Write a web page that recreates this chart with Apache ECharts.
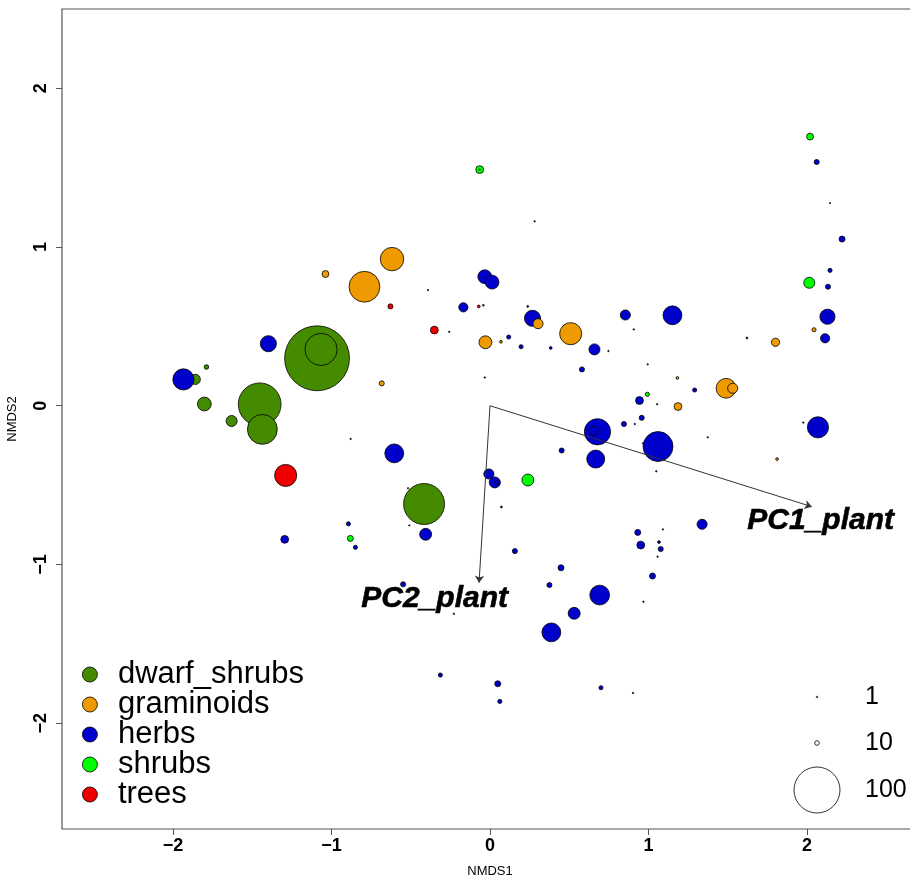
<!DOCTYPE html>
<html><head><meta charset="utf-8">
<script src="https://cdn.jsdelivr.net/npm/echarts@6/dist/echarts.min.js"></script>
<style>html,body{margin:0;padding:0;background:#fff}#c{width:910px;height:881px}</style>
</head><body><div id="c"></div>
<script>
// ---- data: [NMDS1, NMDS2, abundance] ----
const groupNames = ['dwarf_shrubs', 'graminoids', 'herbs', 'shrubs', 'trees'];
const dwarfShrubs = [
  [-1.091, 0.299, 141], [-1.066, 0.355, 70], [-1.453, 0.009, 93], [-1.436, -0.149, 65],
  [-1.630, -0.096, 24], [-1.802, 0.011, 30], [-1.859, 0.166, 22], [-1.789, 0.244, 10],
  [-0.416, -0.619, 89], [-0.042, 0.633, 4], [-0.517, -0.520, 2], [-0.509, -0.754, 2]
];
const graminoids = [
  [-0.792, 0.750, 67], [-0.618, 0.924, 51], [-1.038, 0.830, 15], [-0.683, 0.141, 11],
  [-0.029, 0.400, 28], [0.069, 0.403, 6], [0.303, 0.517, 22], [0.509, 0.454, 48],
  [1.489, 0.110, 43], [1.531, 0.110, 22], [1.182, 0.175, 6], [1.186, -0.005, 17],
  [1.801, 0.400, 18], [2.044, 0.479, 9], [1.811, -0.336, 6], [2.145, 1.277, 3]
];
const herbs = [
  [-1.934, 0.166, 46], [-1.398, 0.391, 35], [-0.604, -0.300, 41], [-0.406, -0.810, 26],
  [-1.295, -0.842, 17], [-0.893, -0.744, 9], [-0.849, -0.892, 9], [-0.033, 0.813, 30],
  [0.013, 0.779, 30], [-0.168, 0.620, 20], [0.238, 0.626, 4], [0.268, 0.551, 35],
  [0.118, 0.433, 9], [0.196, 0.372, 9], [0.383, 0.364, 6], [0.659, 0.355, 24],
  [0.580, 0.229, 11], [0.854, 0.572, 22], [1.151, 0.570, 41], [1.621, 0.427, 4],
  [1.291, 0.099, 9], [0.943, 0.033, 17], [0.957, -0.076, 11], [0.845, -0.115, 11],
  [0.678, -0.164, 57], [0.654, -0.158, 20], [0.667, -0.336, 39], [0.452, -0.282, 11],
  [1.060, -0.257, 65], [2.069, -0.136, 46], [-0.007, -0.430, 22], [0.030, -0.483, 24],
  [0.047, -0.483, 11], [0.072, -0.638, 4], [0.157, -0.916, 11], [0.448, -1.021, 13],
  [0.375, -1.130, 11], [0.692, -1.193, 43], [0.531, -1.308, 26], [0.387, -1.428, 41],
  [-0.548, -1.125, 11], [1.338, -0.747, 22], [0.932, -0.798, 13], [0.951, -0.878, 17],
  [1.066, -0.859, 6], [1.077, -0.903, 11], [1.025, -1.073, 13], [-0.313, -1.697, 9],
  [0.049, -1.752, 13], [0.062, -1.863, 9], [0.700, -1.777, 9], [2.061, 1.536, 11],
  [2.221, 1.050, 13], [2.145, 0.853, 9], [2.132, 0.750, 11], [2.129, 0.561, 33],
  [2.114, 0.425, 20],
  [0.282, 1.162, 3], [-0.391, 0.729, 1], [-0.257, 0.466, 1], [0.747, 0.345, 2],
  [0.907, 0.481, 1], [-0.033, 0.178, 2], [0.995, 0.261, 1], [1.054, 0.009, 1],
  [0.913, -0.115, 1], [1.374, -0.199, 1], [1.049, -0.413, 2], [1.976, -0.106, 1],
  [-0.879, -0.209, 1], [-0.228, -1.311, 2], [1.091, -0.779, 1], [1.057, -0.951, 1],
  [0.968, -1.235, 2], [0.902, -1.810, 2], [0.965, -0.237, 1]
];
const shrubs = [
  [-0.065, 1.488, 17], [2.019, 1.696, 15], [2.014, 0.775, 24], [0.239, -0.468, 26],
  [0.993, 0.072, 9], [-0.881, -0.836, 13], [-0.065, 1.488, 1]
];
const trees = [
  [-1.289, -0.439, 48], [-0.351, 0.477, 17], [-0.628, 0.626, 11], [-0.071, 0.626, 6]
];
const vectorNames = ['PC1_plant', 'PC2_plant'];
const vectorEnds = [[2.03, -0.636], [-0.069, -1.115]];
const vectorLabelPos = [[2.086, -0.727], [-0.349, -1.218]];
const axisTickValues = [-2, -1, 0, 1, 2];
const sizeLegendValues = [1, 10, 100];

// ---- styling / build ----
const SIZE_SCALE = 0.46;  // px diameter per abundance unit
const MIN_SIZE = 1.4;
const colors = {
  dwarf_shrubs: '#458B00', graminoids: '#EE9A00', herbs: '#0000CD',
  shrubs: '#00FF00', trees: '#EE0000'
};
const seriesData = {
  dwarf_shrubs: dwarfShrubs, graminoids: graminoids, herbs: herbs,
  shrubs: shrubs, trees: trees
};
const drawOrder = ['dwarf_shrubs', 'herbs', 'graminoids', 'shrubs', 'trees'];
const FONT = '"Liberation Sans", Arial, Helvetica, sans-serif';
const fmt = v => (v < 0 ? '\u2212' + Math.abs(v) : String(v));
const sizeOf = a => Math.max(a * SIZE_SCALE, MIN_SIZE);

const chart = echarts.init(document.getElementById('c'), null, { renderer: 'canvas' });

const scatterSeries = drawOrder.map(name => ({
  name: name,
  type: 'scatter',
  data: seriesData[name],
  symbol: 'circle',
  symbolSize: d => sizeOf(d[2]),
  itemStyle: { color: colors[name], borderColor: '#000', borderWidth: 0.8, opacity: 1 },
  emphasis: { disabled: true },
  z: 2
}));

const legendX = 817;
const legendYs = [697, 743, 790];
const sizeLegendGraphics = [];
sizeLegendValues.forEach((v, i) => {
  sizeLegendGraphics.push({
    type: 'circle', shape: { cx: legendX, cy: legendYs[i], r: Math.max(v * SIZE_SCALE, 1.6) / 2 },
    style: { fill: '#fff', stroke: '#000', lineWidth: 0.8 }, z: 10
  });
  sizeLegendGraphics.push({
    type: 'text', x: 865, y: legendYs[i],
    style: { text: String(v), fill: '#000', font: '25px ' + FONT, textVerticalAlign: 'middle', textAlign: 'left' },
    z: 10
  });
});

chart.setOption({
  animation: false,
  backgroundColor: '#fff',
  textStyle: { fontFamily: FONT },
  grid: {
    left: 62, top: 9, width: 856, height: 820,
    show: true, borderColor: '#555', borderWidth: 1.2, backgroundColor: 'transparent',
    outerBoundsMode: 'none', containLabel: false
  },
  xAxis: {
    type: 'value', min: -2.7, max: 2.7,
    name: 'NMDS1', nameLocation: 'middle', nameGap: 36,
    nameTextStyle: { fontSize: 13, color: '#000', fontFamily: FONT },
    axisLine: { show: false, onZero: false },
    axisTick: { show: true, inside: false, length: 6, customValues: axisTickValues,
      lineStyle: { color: '#555', width: 1 } },
    axisLabel: { customValues: axisTickValues, formatter: fmt, margin: 8,
      fontSize: 18, fontWeight: 'bold', color: '#000', fontFamily: FONT },
    splitLine: { show: false }
  },
  yAxis: {
    type: 'value', min: -2.667, max: 2.5,
    name: 'NMDS2', nameLocation: 'middle', nameGap: 43, nameRotate: 90,
    nameTextStyle: { fontSize: 13, color: '#000', fontFamily: FONT },
    axisLine: { show: false, onZero: false },
    axisTick: { show: true, inside: false, length: 6, customValues: axisTickValues,
      lineStyle: { color: '#555', width: 1 } },
    axisLabel: { customValues: axisTickValues, formatter: fmt, rotate: 90, margin: 12,
      fontSize: 18, fontWeight: 'bold', color: '#000', fontFamily: FONT },
    splitLine: { show: false }
  },
  legend: {
    data: groupNames.map(n => ({ name: n, icon: 'circle' })),
    orient: 'vertical', left: 77, top: 654,
    itemWidth: 46, itemHeight: 15, itemGap: -1,
    selectedMode: false,
    textStyle: { fontSize: 31, color: '#000', lineHeight: 29, fontFamily: FONT },
    itemStyle: { borderColor: '#000', borderWidth: 0.8 }
  },
  series: scatterSeries.concat([
    {
      name: 'vectors',
      type: 'lines',
      coordinateSystem: 'cartesian2d',
      polyline: false,
      data: vectorEnds.map(e => ({ coords: [[0, 0], e] })),
      symbol: ['none', 'arrow'],
      symbolSize: [5, 7],
      lineStyle: { color: '#333', width: 1, opacity: 1, curveness: 0 },
      emphasis: { disabled: true },
      silent: true,
      z: 5
    },
    {
      name: 'vectorLabels',
      type: 'scatter',
      data: vectorLabelPos.map((p, i) => ({ value: p, name: vectorNames[i] })),
      symbolSize: 0,
      silent: true,
      itemStyle: { color: '#000', opacity: 1 },
      label: {
        show: true, position: 'inside', formatter: p => p.name,
        fontSize: 30, fontWeight: 'bold', fontStyle: 'italic', color: '#000',
        textBorderColor: '#000', textBorderWidth: 0.6, opacity: 1, fontFamily: FONT
      },
      z: 6
    }
  ]),
  graphic: sizeLegendGraphics
});
</script>
</body></html>
